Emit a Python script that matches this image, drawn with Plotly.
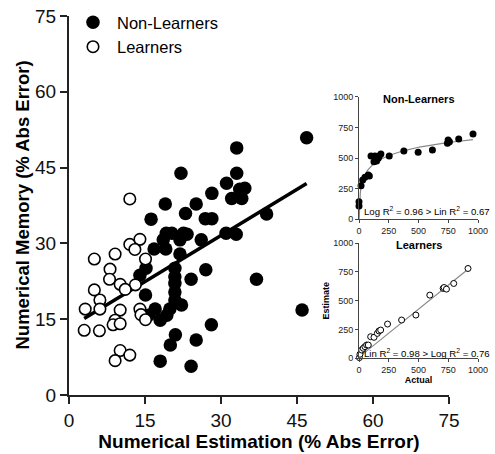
import numpy as np
import plotly.graph_objects as go

FONT = "Liberation Sans, Arial, Helvetica, sans-serif"

# ---- Main scatter data ----
learners_x = [12.0, 5.0, 9.1, 8.1, 8.0, 10.1, 12.0, 14.0, 13.0, 15.1, 13.1, 11.1, 5.0, 6.1,
              3.2, 6.1, 10.1, 14.0, 14.2, 15.1, 9.1, 8.7, 10.1, 3.0, 6.0, 10.1, 12.0, 9.1]
learners_y = [38.8, 26.9, 27.9, 24.9, 22.9, 21.9, 29.8, 30.8, 28.8, 26.9, 21.8, 20.9, 20.8, 18.8,
              17.0, 17.0, 16.8, 17.0, 15.9, 14.9, 14.8, 13.9, 14.1, 12.8, 12.7, 8.8, 7.9, 6.8]

nonlearners_x = [46.9, 33.1, 22.1, 33.1, 31.1, 28.2, 34.7, 33.7, 32.1, 34.1, 19.0, 25.1, 23.0,
                 16.2, 26.9, 28.2, 39.0, 19.2, 20.3, 22.6, 23.3, 31.0, 33.0, 18.6, 21.9, 26.1,
                 16.8, 19.1, 21.9, 15.2, 14.0, 20.9, 20.9, 20.9, 20.9, 20.9, 27.0, 24.1, 37.0,
                 15.1, 22.2, 17.0, 19.9, 15.7, 18.0, 19.3, 46.0, 28.1, 21.0, 20.0, 25.1, 18.0, 24.1]
nonlearners_y = [50.9, 48.9, 43.9, 43.9, 41.9, 39.9, 40.9, 40.7, 38.9, 38.9, 37.8, 37.8, 35.9,
                 34.8, 34.9, 34.9, 35.8, 32.0, 32.0, 32.0, 31.8, 32.0, 31.8, 30.7, 30.7, 30.7,
                 28.9, 28.9, 27.9, 25.1, 23.7, 25.1, 23.4, 22.1, 20.4, 18.8, 24.8, 22.9, 22.9,
                 19.8, 17.8, 17.0, 17.0, 15.8, 14.8, 15.8, 16.8, 13.9, 11.9, 9.9, 10.9, 6.7, 5.7]

# regression of memory on estimation (all children)
reg_intercept = 13.3
reg_slope = 0.609

main_ticks = [0, 15, 30, 45, 60, 75]

# ---- Inset data (number-line estimates) ----
nl_actual = [0, 0, 17, 31, 50, 78, 87, 101, 134, 126, 148, 162, 170, 184, 254, 377, 497,
             617, 743, 760, 749, 838, 958]
nl_estimate = [144, 109, 274, 321, 342, 361, 353, 516, 516, 470, 476, 497, 516, 533, 516,
               557, 546, 565, 620, 633, 647, 655, 696]
nl_log_a = -18.0
nl_log_b = 97.4

l_actual = [3, 8, 22, 36, 50, 64, 78, 98, 126, 154, 168, 182, 240, 358, 478, 595, 707, 715,
            735, 796, 916]
l_estimate = [6, 35, 72, 87, 101, 115, 115, 187, 182, 216, 237, 245, 297, 332, 375, 548, 606,
              614, 600, 649, 779]
l_lin_a = 10.0
l_lin_b = 0.833

inset_ticks = [0, 250, 500, 750, 1000]

fig = go.Figure()

# main regression line
all_x = learners_x + nonlearners_x
lx = np.array([min(all_x), max(all_x)])
fig.add_trace(go.Scatter(x=lx, y=reg_intercept + reg_slope * lx, mode="lines",
                         line=dict(color="black", width=3.5), showlegend=False,
                         hoverinfo="skip"))

fig.add_trace(go.Scatter(x=nonlearners_x, y=nonlearners_y, mode="markers", name="Non-Learners",
                         marker=dict(size=13.5, color="black", line=dict(width=0))))
fig.add_trace(go.Scatter(x=learners_x, y=learners_y, mode="markers", name="Learners",
                         marker=dict(size=11.5, color="white", line=dict(color="black", width=1.6))))

# inset 1: Non-Learners
cx = np.linspace(1.2, max(nl_actual), 200)
fig.add_trace(go.Scatter(x=cx, y=nl_log_a + nl_log_b * np.log(cx), mode="lines",
                         line=dict(color="#888888", width=1.2), xaxis="x2", yaxis="y2",
                         showlegend=False, hoverinfo="skip"))
fig.add_trace(go.Scatter(x=nl_actual, y=nl_estimate, mode="markers", xaxis="x2", yaxis="y2",
                         marker=dict(size=7, color="black"), showlegend=False, cliponaxis=False))

# inset 2: Learners
cx2 = np.array([0, max(l_actual)])
fig.add_trace(go.Scatter(x=cx2, y=l_lin_a + l_lin_b * cx2, mode="lines",
                         line=dict(color="#888888", width=1.2), xaxis="x3", yaxis="y3",
                         showlegend=False, hoverinfo="skip"))
fig.add_trace(go.Scatter(x=l_actual, y=l_estimate, mode="markers", xaxis="x3", yaxis="y3",
                         marker=dict(size=6, color="white", line=dict(color="black", width=1)),
                         showlegend=False, cliponaxis=False))

axis_main = dict(showline=True, linecolor="#222", linewidth=2, ticks="outside", ticklen=7,
                 tickwidth=2, tickcolor="#222", showgrid=False, zeroline=False,
                 automargin=False, tickfont=dict(family=FONT, size=19, color="#111"))
axis_inset = dict(showline=True, linecolor="#444", linewidth=1, ticks="outside", ticklen=3,
                  tickwidth=1, tickcolor="#444", showgrid=False, zeroline=False,
                  automargin=False, range=[0, 1000], tickvals=inset_ticks,
                  tickfont=dict(family=FONT, size=9, color="#222"))

W = 416.0
H = 379.0
fig.update_layout(
    width=495, height=454,
    margin=dict(l=69, r=10, t=16, b=59, autoexpand=False),
    paper_bgcolor="white", plot_bgcolor="rgba(0,0,0,0)",
    font=dict(family=FONT, color="black"),
    xaxis=dict(axis_main, domain=[0, 380 / W], range=[0, 75], tickvals=main_ticks,
               title=dict(text="<b>Numerical Estimation (% Abs Error)</b>",
                          font=dict(size=19, family=FONT), standoff=3)),
    yaxis=dict(axis_main, domain=[0, 1], range=[0, 75], tickvals=main_ticks),
    xaxis2=dict(axis_inset, domain=[(359 - 69) / W, (478 - 69) / W], anchor="y2"),
    yaxis2=dict(axis_inset, domain=[(395 - 219.3) / H, (395 - 96.7) / H], anchor="x2"),
    xaxis3=dict(axis_inset, domain=[(359 - 69) / W, (478 - 69) / W], anchor="y3",
                title=dict(text="<b>Actual</b>", font=dict(size=9, family=FONT), standoff=2)),
    yaxis3=dict(axis_inset, domain=[(395 - 358.3) / H, (395 - 243) / H], anchor="x3",
                title=dict(text="<b>Estimate</b>", font=dict(size=9, family=FONT), standoff=2)),
    legend=dict(x=0.0, y=1.0 + 11 / H, xanchor="left", yanchor="top", bgcolor="rgba(0,0,0,0)",
                font=dict(size=16.5, family=FONT), itemwidth=38, tracegroupgap=0),
    showlegend=True,
)

# y-axis title as rotated text
fig.add_annotation(text="<b>Numerical Memory (% Abs Error)</b>", xref="paper", yref="paper",
                   x=(22 - 69) / W, y=0.5, textangle=-90, showarrow=False,
                   xanchor="center", yanchor="middle", font=dict(size=18.5, family=FONT))

fig.add_annotation(text="<b>Non-Learners</b>", xref="x2", yref="y2", x=500, y=980,
                   showarrow=False, font=dict(size=11, family=FONT), yanchor="middle")
fig.add_annotation(text="<b>Learners</b>", xref="x3", yref="y3", x=500, y=980,
                   showarrow=False, font=dict(size=11, family=FONT), yanchor="middle")
fig.add_annotation(text="Log R<sup>2</sup> = 0.96 > Lin R<sup>2</sup> = 0.67", xref="x2", yref="y2",
                   x=1000, y=70, xanchor="right", xshift=14, showarrow=False,
                   font=dict(size=9.6, family=FONT))
fig.add_annotation(text="Lin R<sup>2</sup> = 0.98 > Log R<sup>2</sup> = 0.76", xref="x3", yref="y3",
                   x=1000, y=46, xanchor="right", xshift=14, showarrow=False,
                   font=dict(size=9.6, family=FONT))

fig.write_html("out.html")
